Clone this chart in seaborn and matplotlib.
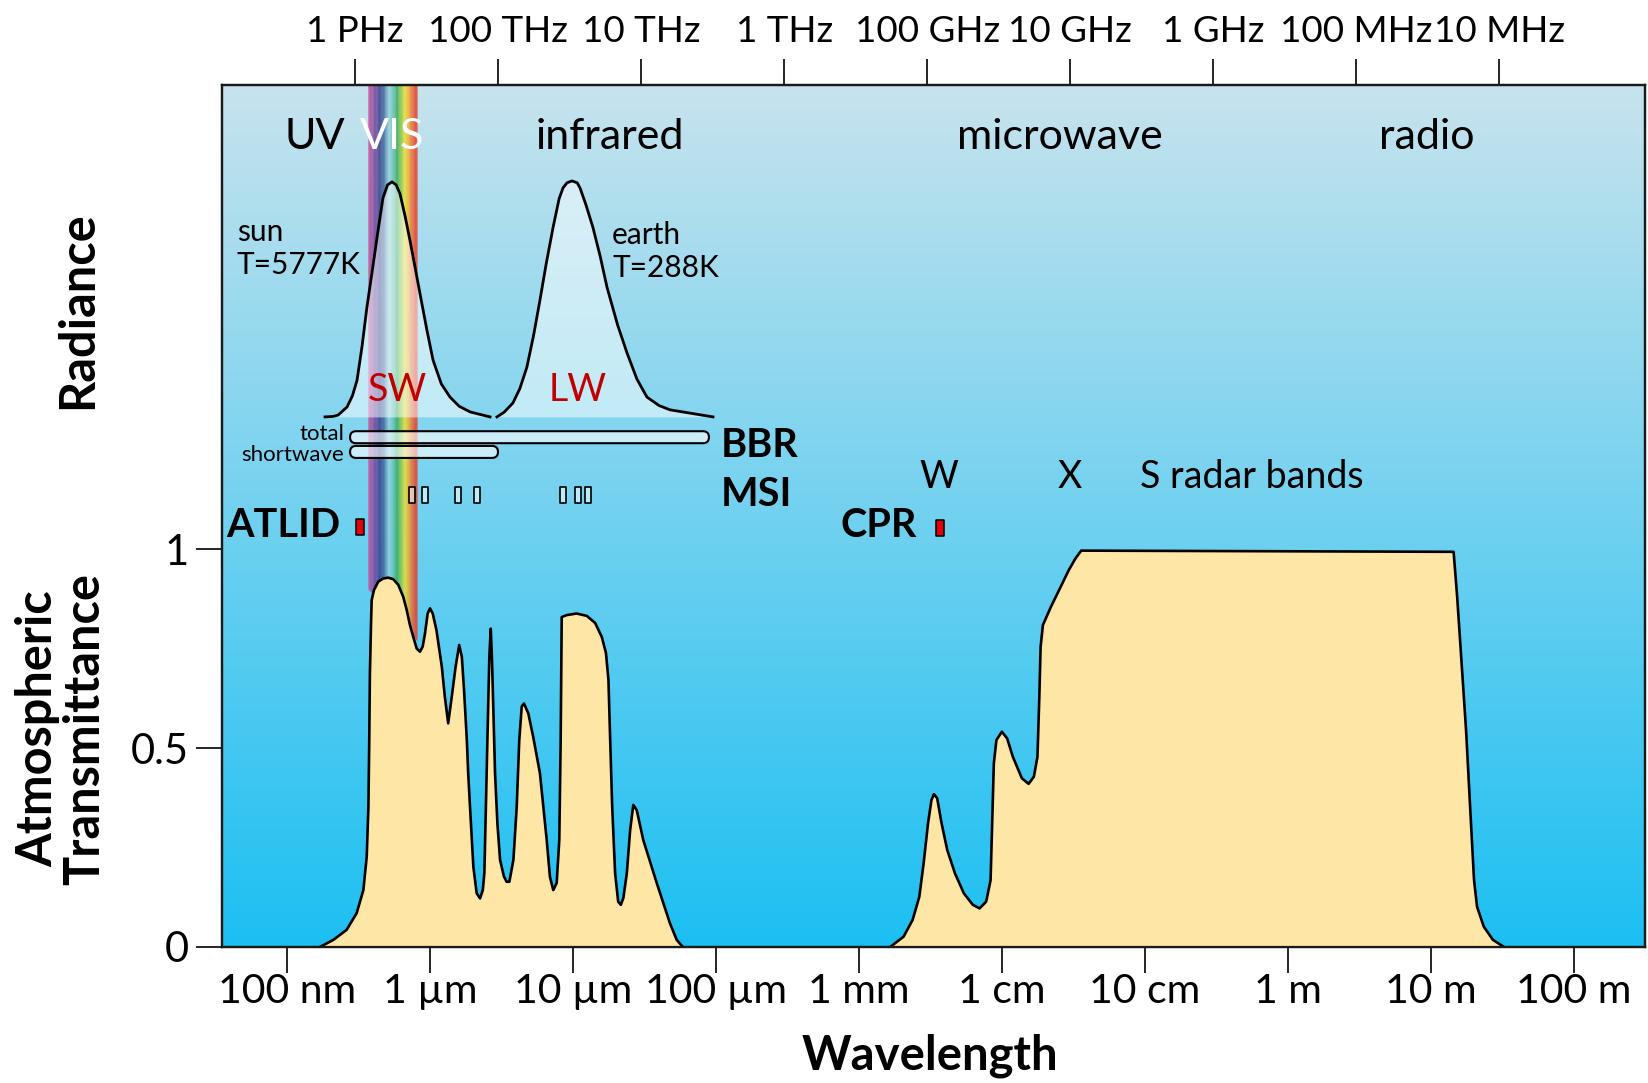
import numpy as np
import matplotlib
matplotlib.use("Agg")
import matplotlib.pyplot as plt
import seaborn as sns
from matplotlib.colors import LinearSegmentedColormap
from matplotlib.patches import FancyBboxPatch
from matplotlib.transforms import IdentityTransform
from matplotlib.path import Path
from matplotlib.ticker import NullLocator

plt.rcParams['font.family'] = ['Lato', 'DejaVu Sans']

# ---------------- data ----------------
# atmospheric transmittance, optical/IR window (wavelength in micrometres)
optical_wl_um = [0.170, 0.211, 0.261, 0.307, 0.342, 0.361, 0.371, 0.376, 0.380, 0.387,
                 0.391, 0.406, 0.435, 0.471, 0.511, 0.554, 0.600, 0.650, 0.687, 0.724,
                 0.764, 0.807, 0.851, 0.889, 0.923, 0.963, 1.00, 1.045, 1.11, 1.21,
                 1.27, 1.34, 1.42, 1.51, 1.60, 1.67, 1.73, 1.81, 1.85, 1.905,
                 2.01, 2.12, 2.24, 2.34, 2.40, 2.43, 2.52, 2.60, 2.66, 2.71,
                 2.77, 2.85, 2.96, 3.09, 3.29, 3.43, 3.59, 3.83, 4.04, 4.21,
                 4.38, 4.54, 4.87, 5.27, 5.87, 6.55, 6.90, 7.28, 7.69, 8.02,
                 8.20, 8.34, 9.04, 10.6, 12.5, 14.3, 15.9, 17.0, 17.7, 18.2,
                 18.8, 19.7, 20.7, 21.6, 22.5, 23.8, 25.1, 26.4, 27.9, 31.0,
                 38.5, 47.6, 53.1, 58.7]
optical_T = [0.000, 0.018, 0.043, 0.085, 0.143, 0.227, 0.352, 0.520, 0.688, 0.814,
             0.872, 0.897, 0.918, 0.926, 0.928, 0.924, 0.910, 0.880, 0.847, 0.809,
             0.779, 0.750, 0.742, 0.755, 0.788, 0.838, 0.851, 0.838, 0.796, 0.704,
             0.629, 0.562, 0.629, 0.704, 0.759, 0.729, 0.646, 0.520, 0.436, 0.352,
             0.202, 0.135, 0.122, 0.143, 0.186, 0.269, 0.520, 0.729, 0.800, 0.729,
             0.604, 0.437, 0.311, 0.219, 0.177, 0.164, 0.164, 0.219, 0.352, 0.520,
             0.604, 0.612, 0.587, 0.528, 0.437, 0.269, 0.176, 0.143, 0.161, 0.269,
             0.520, 0.829, 0.834, 0.838, 0.832, 0.814, 0.779, 0.739, 0.671, 0.520,
             0.352, 0.186, 0.114, 0.106, 0.123, 0.186, 0.294, 0.357, 0.344, 0.269,
             0.161, 0.060, 0.018, 0.000]

# atmospheric transmittance, microwave/radio window (wavelength in metres)
radio_wl_m = [1.652e-3, 2.05e-3, 2.37e-3, 2.64e-3, 2.83e-3, 3.04e-3, 3.21e-3, 3.34e-3,
              3.52e-3, 3.78e-3, 4.14e-3, 4.69e-3, 5.41e-3, 6.25e-3, 6.97e-3, 7.75e-3,
              8.32e-3, 8.51e-3, 8.77e-3, 9.14e-3, 9.98e-3, 1.087e-2, 1.191e-2, 1.377e-2,
              1.535e-2, 1.671e-2, 1.770e-2, 1.824e-2, 1.862e-2, 1.932e-2, 2.20e-2, 2.54e-2,
              2.93e-2, 3.26e-2, 3.58e-2, 14.39, 15.24, 16.37, 17.59, 18.88,
              20.0, 21.0, 23.4, 27.1, 32.4]
radio_T = [0.000, 0.026, 0.068, 0.126, 0.210, 0.311, 0.369, 0.384,
           0.374, 0.311, 0.244, 0.185, 0.135, 0.106, 0.097, 0.114,
           0.168, 0.294, 0.462, 0.520, 0.541, 0.524, 0.478, 0.424,
           0.410, 0.428, 0.478, 0.629, 0.754, 0.809, 0.855, 0.901,
           0.947, 0.976, 0.996, 0.993, 0.880, 0.713, 0.545, 0.336,
           0.168, 0.101, 0.051, 0.018, 0.000]

# blackbody radiance curves (normalised), wavelength in micrometres
sun_wl_um = [0.1845, 0.210, 0.228, 0.263, 0.287, 0.309, 0.335, 0.362, 0.395, 0.426,
             0.469, 0.505, 0.542, 0.580, 0.617, 0.670, 0.725, 0.851, 0.95, 1.05,
             1.20, 1.38, 1.60, 1.91, 2.63]
sun_rad = [0.0, 0.002, 0.008, 0.042, 0.090, 0.156, 0.300, 0.464, 0.620, 0.759,
           0.928, 0.983, 0.996, 0.983, 0.945, 0.850, 0.747, 0.523, 0.370, 0.241,
           0.140, 0.084, 0.045, 0.021, 0.0]
earth_wl_um = [2.94, 3.30, 3.80, 4.25, 4.76, 5.30, 5.87, 6.50, 7.25, 8.00, 8.51, 9.08,
               9.84, 10.7, 11.2, 12.3, 13.8, 15.5, 17.3, 20.5, 23.9, 28.0, 32.9, 40.0,
               47.7, 95.3]
earth_rad = [0.0, 0.020, 0.059, 0.120, 0.211, 0.345, 0.494, 0.650, 0.802, 0.925, 0.970,
             0.992, 1.0, 0.992, 0.970, 0.900, 0.802, 0.680, 0.549, 0.390, 0.270, 0.160,
             0.084, 0.048, 0.030, 0.0]

wavelength_ticks_m = [1e-7, 1e-6, 1e-5, 1e-4, 1e-3, 1e-2, 1e-1, 1e0, 1e1, 1e2]
wavelength_labels = ["100 nm", "1 µm", "10 µm", "100 µm", "1 mm", "1 cm", "10 cm",
                     "1 m", "10 m", "100 m"]
freq_ticks_hz = [1e15, 1e14, 1e13, 1e12, 1e11, 1e10, 1e9, 1e8, 1e7]
freq_labels = ["1 PHz", "100 THz", "10 THz", "1 THz", "100 GHz", "10 GHz", "1 GHz",
               "100 MHz", "10 MHz"]
y_ticks = [0, 0.5, 1]
y_labels = ["0", "0.5", "1"]

msi_channels_um = [0.75, 0.93, 1.57, 2.13, 8.5, 10.8, 12.8]
atlid_um = 0.325
cpr_mm = 3.68
bbr_total_um = (0.276, 89.3)
bbr_sw_um = (0.276, 2.99)
vis_band_um = (0.368, 0.811)
rainbow_colors = ['#c8509a', '#93479c', '#5b3f95', '#2f3c85', '#4a78a8', '#9ad4dc',
                  '#6cc3bd', '#35ab58', '#8cc63f', '#f0e32b', '#f7a62b', '#ee5a2b', '#e8362a']

# ---------------- figure ----------------
W, H = 1648, 1083
fig = plt.figure(figsize=(W / 100, H / 100), dpi=100)
pos = [222 / W, 1 - 947 / H, (1645 - 222) / W, (947 - 85) / H]

bg = fig.add_axes(pos, zorder=-1)
grad = np.linspace(0, 1, 256)[:, None]
top_c = np.array([0.78, 0.89, 0.93])
bot_c = np.array([0.11, 0.75, 0.95])
img = top_c[None, None, :] * (1 - grad[:, :, None]) + bot_c[None, None, :] * grad[:, :, None]
bg.imshow(img, aspect='auto', extent=[0, 1, 0, 1])
bg.axis('off')

ax = fig.add_axes(pos)
ax.patch.set_visible(False)
ax.set_xscale('log')
XMIN, XMAX = 10 ** -7.4545, 10 ** 2.4965
YMAX = 2.166
ax.set_xlim(XMIN, XMAX)
ax.set_ylim(0, YMAX)

um = 1e-6

# rainbow (visible band); its lower edge slopes slightly, hidden by the window fill
cmap = LinearSegmentedColormap.from_list('vis', rainbow_colors)
n_sl = 60
edges = np.logspace(np.log10(vis_band_um[0] * um), np.log10(vis_band_um[1] * um), n_sl + 1)
for i in range(n_sl):
    f0, f1 = i / n_sl, (i + 1) / n_sl
    ax.fill_between([edges[i], edges[i + 1]], [0.90 - 0.13 * f0, 0.90 - 0.13 * f1], YMAX,
                    color=cmap(i / (n_sl - 1)), lw=0, zorder=1)

# radiance curves
R_BASE, R_SCALE = 1.332, 0.593
sun_x = np.array(sun_wl_um) * um
earth_x = np.array(earth_wl_um) * um
sun_y = R_BASE + R_SCALE * np.array(sun_rad)
earth_y = R_BASE + R_SCALE * np.array(earth_rad)
ax.fill_between(sun_x, R_BASE, sun_y, color='white', alpha=0.5, lw=0, zorder=2)
ax.fill_between(earth_x, R_BASE, earth_y, color='white', alpha=0.5, lw=0, zorder=2)
sns.lineplot(x=sun_x, y=sun_y, ax=ax, color='black', lw=2.0, zorder=3)
sns.lineplot(x=earth_x, y=earth_y, ax=ax, color='black', lw=2.0, zorder=3)

# transmittance
opt_x = np.array(optical_wl_um) * um
rad_x = np.array(radio_wl_m)
fill_c = '#fee6a6'
ax.fill_between(opt_x, 0, optical_T, color=fill_c, lw=0, zorder=3)
ax.fill_between(rad_x, 0, radio_T, color=fill_c, lw=0, zorder=3)
sns.lineplot(x=opt_x, y=optical_T, ax=ax, color='black', lw=1.9, zorder=4)
sns.lineplot(x=rad_x, y=radio_T, ax=ax, color='black', lw=1.9, zorder=4)

# instrument bars (BBR) drawn as rounded boxes in pixel space
def rounded_bar(x0, x1, yc, h_px):
    p0 = ax.transData.transform((x0, yc))
    p1 = ax.transData.transform((x1, yc))
    box = FancyBboxPatch((p0[0], p0[1] - h_px / 2), p1[0] - p0[0], h_px,
                         boxstyle=f"round,pad=0,rounding_size={h_px / 2}",
                         transform=IdentityTransform(), fc=(1, 1, 1, 0.6), ec='black',
                         lw=1.5, zorder=5)
    fig.add_artist(box)

rounded_bar(bbr_total_um[0] * um, bbr_total_um[1] * um, 1.281, 12)
rounded_bar(bbr_sw_um[0] * um, bbr_sw_um[1] * um, 1.244, 12)

# MSI channels, ATLID, CPR markers
box_marker = Path([(-0.42, -1), (0.42, -1), (0.42, 1), (-0.42, 1), (-0.42, -1)],
                  [Path.MOVETO, Path.LINETO, Path.LINETO, Path.LINETO, Path.CLOSEPOLY])
red_marker = Path([(-0.5, -1), (0.5, -1), (0.5, 1), (-0.5, 1), (-0.5, -1)],
                  [Path.MOVETO, Path.LINETO, Path.LINETO, Path.LINETO, Path.CLOSEPOLY])
ax.plot(np.array(msi_channels_um) * um, [1.136] * len(msi_channels_um), ls='none',
        marker=box_marker, ms=11.5, mfc=(1, 1, 1, 0.55), mec='black', mew=1.2, zorder=5)
ax.plot([atlid_um * um], [1.055], ls='none', marker=red_marker, ms=11, mfc='#e3000b',
        mec='black', mew=1.1, zorder=5)
ax.plot([cpr_mm * 1e-3], [1.053], ls='none', marker=red_marker, ms=11, mfc='#e3000b',
        mec='black', mew=1.1, zorder=5)

# texts
ty = 2.035
RS = 31
ax.text(1.57e-7, ty, "UV", fontsize=RS, ha='center', va='center', zorder=6)
ax.text(5.42e-7, ty, "VIS", fontsize=RS, ha='center', va='center', color='white', zorder=6)
ax.text(1.82e-5, ty, "infrared", fontsize=RS, ha='center', va='center', zorder=6)
ax.text(2.55e-2, ty, "microwave", fontsize=RS, ha='center', va='center', zorder=6)
ax.text(9.4, ty, "radio", fontsize=RS, ha='center', va='center', zorder=6)

ax.text(4.47e-8, 1.796, "sun", fontsize=21.5, ha='left', va='center', zorder=6)
ax.text(4.47e-8, 1.714, "T=5777K", fontsize=21.5, ha='left', va='center', zorder=6)
ax.text(1.875e-5, 1.789, "earth", fontsize=21.5, ha='left', va='center', zorder=6)
ax.text(1.875e-5, 1.706, "T=288K", fontsize=21.5, ha='left', va='center', zorder=6)
ax.text(5.87e-7, 1.399, "SW", fontsize=27, ha='center', va='center', color='#c00000', zorder=6)
ax.text(1.084e-5, 1.399, "LW", fontsize=27, ha='center', va='center', color='#c00000', zorder=6)

ax.text(2.51e-7, 1.290, "total", fontsize=16, ha='right', va='center', zorder=6)
ax.text(2.51e-7, 1.236, "shortwave", fontsize=16, ha='right', va='center', zorder=6)
ax.text(1.08e-4, 1.261, "BBR", fontsize=28.5, fontweight='bold', ha='left', va='center', zorder=6)
ax.text(1.08e-4, 1.136, "MSI", fontsize=28.5, fontweight='bold', ha='left', va='center', zorder=6)
ax.text(2.35e-7, 1.058, "ATLID", fontsize=28.5, fontweight='bold', ha='right', va='center', zorder=6)
ax.text(2.55e-3, 1.060, "CPR", fontsize=28.5, fontweight='bold', ha='right', va='center', zorder=6)
ax.text(3.62e-3, 1.182, "W", fontsize=27, ha='center', va='center', zorder=6)
ax.text(2.99e-2, 1.182, "X", fontsize=27, ha='center', va='center', zorder=6)
ax.text(9.2e-2, 1.182, "S radar bands", fontsize=27, ha='left', va='center', zorder=6)

# axes styling
ax.set_xlabel("")
ax.set_ylabel("")
ax.set_xticks(wavelength_ticks_m)
ax.set_xticklabels(wavelength_labels)
ax.xaxis.set_minor_locator(NullLocator())
ax.set_yticks(y_ticks)
ax.set_yticklabels(y_labels)
ax.tick_params(axis='x', length=19, width=1.2, labelsize=29.5, pad=0)
ax.tick_params(axis='y', length=19, width=1.2, labelsize=30, pad=5)
for s in ax.spines.values():
    s.set_linewidth(1.6)
    s.set_color('#1a1a1a')

ax2 = ax.twiny()
ax2.set_xscale('log')
ax2.set_xlim(XMIN, XMAX)
ax2.set_xticks([3e8 / f for f in freq_ticks_hz])
ax2.set_xticklabels(freq_labels)
ax2.xaxis.set_minor_locator(NullLocator())
ax2.tick_params(axis='x', length=19, width=1.2, labelsize=26.5, pad=8)
for s in ax2.spines.values():
    s.set_linewidth(1.6)
    s.set_color('#1a1a1a')

fig.text(78 / W, 1 - 310 / H, "Radiance", rotation=90, fontsize=35, fontweight='bold',
         ha='center', va='center')
fig.text(61 / W, 1 - 729 / H, "Atmospheric\nTransmittance", rotation=90, fontsize=35,
         fontweight='bold', ha='center', va='center', linespacing=1.05)
fig.text(930 / W, 1 - 1056 / H, "Wavelength", fontsize=34, fontweight='bold',
         ha='center', va='center')

fig.savefig("out.png", dpi=100)
